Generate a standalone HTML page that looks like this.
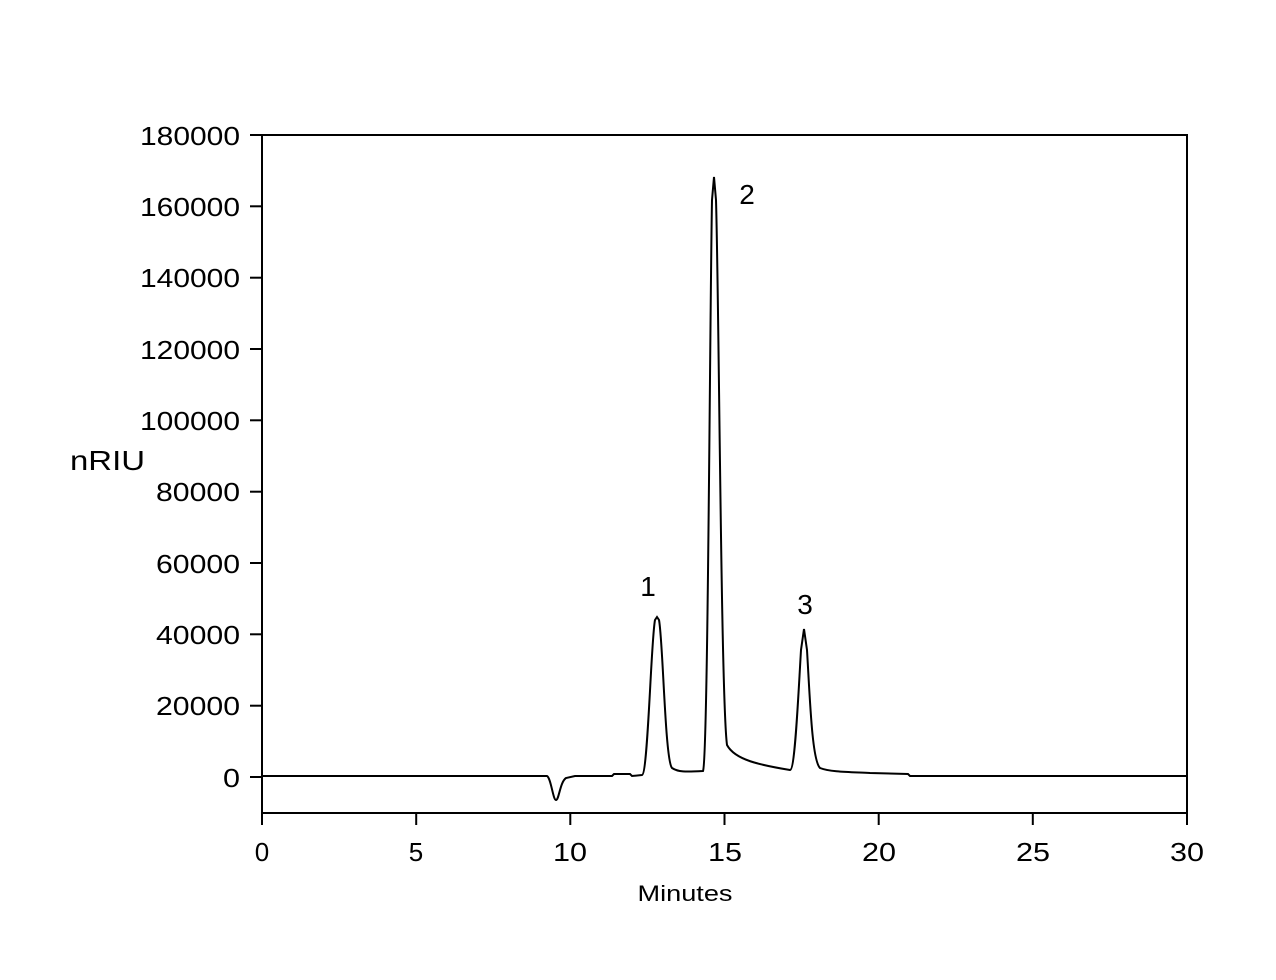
<!DOCTYPE html>
<html><head><style>body{margin:0;background:#fff}svg{display:block}</style></head><body>
<svg width="1276" height="980" xmlns="http://www.w3.org/2000/svg" font-family="Liberation Sans, Arial, sans-serif">
<rect x="262" y="135" width="925" height="678" fill="none" stroke="#000" stroke-width="2"/>
<g stroke="#000" stroke-width="2">
<line x1="250" y1="135" x2="262" y2="135"/><line x1="250" y1="206.3" x2="262" y2="206.3"/><line x1="250" y1="277.7" x2="262" y2="277.7"/><line x1="250" y1="349" x2="262" y2="349"/><line x1="250" y1="420.3" x2="262" y2="420.3"/><line x1="250" y1="491.7" x2="262" y2="491.7"/><line x1="250" y1="563" x2="262" y2="563"/><line x1="250" y1="634.3" x2="262" y2="634.3"/><line x1="250" y1="705.7" x2="262" y2="705.7"/><line x1="250" y1="777" x2="262" y2="777"/>
<line x1="262" y1="813" x2="262" y2="825"/><line x1="416.2" y1="813" x2="416.2" y2="825"/><line x1="570.3" y1="813" x2="570.3" y2="825"/><line x1="724.5" y1="813" x2="724.5" y2="825"/><line x1="878.7" y1="813" x2="878.7" y2="825"/><line x1="1032.8" y1="813" x2="1032.8" y2="825"/><line x1="1187" y1="813" x2="1187" y2="825"/>
</g>
<g font-size="26" text-anchor="end" lengthAdjust="spacingAndGlyphs">
<text x="240" y="145" textLength="100" lengthAdjust="spacingAndGlyphs">180000</text><text x="240" y="216" textLength="100" lengthAdjust="spacingAndGlyphs">160000</text><text x="240" y="287" textLength="100" lengthAdjust="spacingAndGlyphs">140000</text><text x="240" y="359" textLength="100" lengthAdjust="spacingAndGlyphs">120000</text><text x="240" y="430" textLength="100" lengthAdjust="spacingAndGlyphs">100000</text><text x="240" y="501" textLength="84" lengthAdjust="spacingAndGlyphs">80000</text><text x="240" y="573" textLength="84" lengthAdjust="spacingAndGlyphs">60000</text><text x="240" y="644" textLength="84" lengthAdjust="spacingAndGlyphs">40000</text><text x="240" y="715" textLength="84" lengthAdjust="spacingAndGlyphs">20000</text><text x="240" y="787" textLength="17" lengthAdjust="spacingAndGlyphs">0</text>
</g>
<g font-size="26" text-anchor="middle">
<text x="262" y="861">0</text><text x="416" y="861">5</text><text x="570" y="861" textLength="34" lengthAdjust="spacingAndGlyphs">10</text><text x="725" y="861" textLength="34" lengthAdjust="spacingAndGlyphs">15</text><text x="879" y="861" textLength="34" lengthAdjust="spacingAndGlyphs">20</text><text x="1033" y="861" textLength="34" lengthAdjust="spacingAndGlyphs">25</text><text x="1187" y="861" textLength="34" lengthAdjust="spacingAndGlyphs">30</text>
<text x="648" y="596" font-size="28">1</text><text x="747" y="204" font-size="28">2</text><text x="805" y="614" font-size="28">3</text>
<text x="685" y="901" font-size="22" textLength="95" lengthAdjust="spacingAndGlyphs">Minutes</text>
</g>
<text x="70" y="470" font-size="28" textLength="75" lengthAdjust="spacingAndGlyphs">nRIU</text>
<path fill="none" stroke="#000" stroke-width="2" d="M262 776 L547 776 C551 778,553 800,556 800 C559 800,560 782,566 778 L575 776 L612 776 L614 774 L630 774 L632 776 L642 775 C648 774,651 640,655 620 L657 617 L659 620 C663 640,665 760,672 768 C678 772,685 772,703 771 C708 760,710 300,712 200 L714 177 L716 200 C719 300,721 700,727 745 C735 760,760 765,790 770 C795 770,798 700,801 650 L804 629 L807 650 C810 700,812 760,820 768 C830 772,850 772,870 773 L908 774 L910 776 L1187 776"/>
</svg>
</body></html>
